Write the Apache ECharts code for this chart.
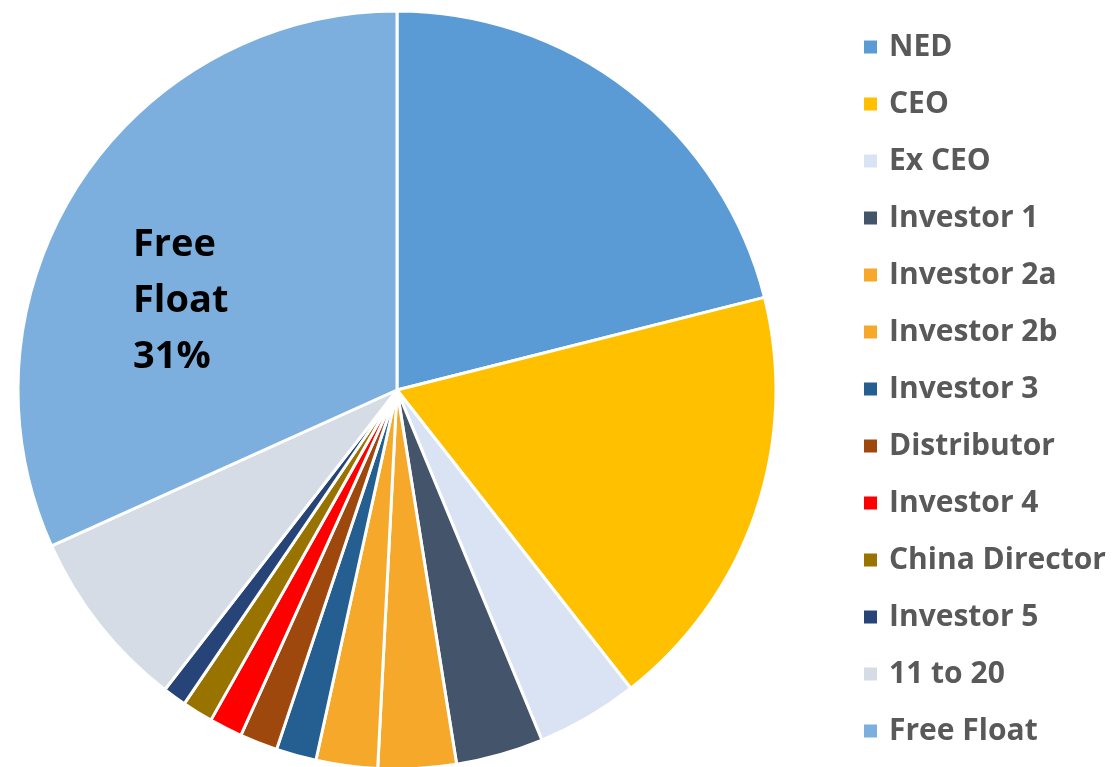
<!DOCTYPE html>
<html>
<head>
<meta charset="utf-8">
<script src="https://cdn.jsdelivr.net/npm/echarts@6/dist/echarts.min.js"></script>
<style>
html,body{margin:0;padding:0;background:#fff;}
#chart{width:1117px;height:767px;}
</style>
</head>
<body>
<div id="chart"></div>
<script>
const categories = ['NED','CEO','Ex CEO','Investor 1','Investor 2a','Investor 2b','Investor 3','Distributor','Investor 4','China Director','Investor 5','11 to 20','Free Float'];
const values = [20.9, 18.2, 4.3, 3.7, 3.3, 2.6, 1.7, 1.6, 1.4, 1.3, 1.0, 7.7, 31.49];
const colors = ['#5B9BD5','#FFC000','#DAE3F3','#44546A','#F5A82A','#F5A82A','#255E91','#9E480E','#FF0000','#997300','#264478','#D6DCE5','#7CAFDE'];
const labelled = ['Free Float'];

const chart = echarts.init(document.getElementById('chart'), null, {renderer:'canvas'});
const FONT = '"Open Sans"';
chart.setOption({
  animation: false,
  legend: {
    orient: 'vertical',
    left: 857,
    top: 27,
    itemWidth: 15,
    itemHeight: 15,
    itemGap: 27,
    icon: 'rect',
    data: categories,
    textStyle: {color:'#595959', fontFamily: FONT, fontWeight:'bold', fontSize: 30, lineHeight: 30, padding:[0,0,0,6]}
  },
  series: [{
    type: 'pie',
    center: [397, 390],
    radius: [0, 379],
    startAngle: 90,
    clockwise: true,
    avoidLabelOverlap: false,
    itemStyle: {borderColor:'#fff', borderWidth: 3},
    label: {show:false},
    labelLine: {show:false},
    emphasis: {disabled:true},
    labelLayout: function(p){
      return {x: 133, y: 301, align:'left', verticalAlign:'middle'};
    },
    data: categories.map((c,i)=>({
      name: c,
      value: values[i],
      itemStyle: {color: colors[i]},
      label: labelled.includes(c) ? {
        show: true,
        position: 'inside',
        formatter: p => p.name.replace(' ', '\n') + '\n' + Math.round(p.value) + '%',
        color: '#000',
        fontFamily: FONT,
        fontWeight: 'bold',
        fontSize: 38,
        lineHeight: 56,
        align: 'left'
      } : {show:false}
    }))
  }]
});
</script>
</body>
</html>
